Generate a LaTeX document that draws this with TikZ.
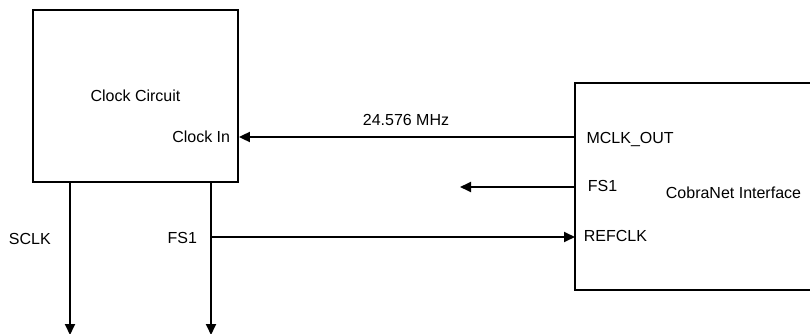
\documentclass[tikz,border=0pt]{standalone}
\usepackage{fontspec}
\setmainfont{Liberation Sans}
\usetikzlibrary{arrows.meta}
\begin{document}
\begin{tikzpicture}[x=1pt,y=-1pt,>={Triangle[length=11pt,width=10pt]},line width=1.8pt,
		font=\fontsize{16}{19}\selectfont,
		blk/.style={draw,rectangle,inner sep=0pt},
		pin/.style={inner sep=0pt}]
	\useasboundingbox (0,0) rectangle (810,334);
	\clip (0,0) rectangle (810,334);
	\node[blk,minimum width=205pt,minimum height=172pt] (clk) at (135.5,96) {};
	\node[blk,minimum width=325pt,minimum height=207pt] (cobra) at (737.5,186.5) {};
	\path (575,137) coordinate (mclk)
	(575,187) coordinate (fsout)
	(460,187) coordinate (fsend)
	(211,237) coordinate (fstap)
	(575,237) coordinate (refclk)
	(70,335) coordinate (sclk)
	(211,335) coordinate (fsbot);
	\draw[->] (mclk) -- (mclk -| clk.east);
	\draw[->] (fsout) -- (fsend);
	\draw[->] (fstap) -- (refclk);
	\draw[->] (sclk |- clk.south) -- (sclk);
	\draw[->] (fsbot |- clk.south) -- (fsbot);
	% texts
	\foreach \n/\x/\y/\a/\t in {lclk/135.5/102/base/Clock Circuit,
		lin/231/142.7/base east/Clock In,
		lfreq/406/125/base/24.576 MHz,
		lsclk/8/244/base west/SCLK,
		lfsa/166.7/243.3/base west/FS1,
		lmclk/585.7/143/base west/MCLK\_OUT,
		lfsb/587/191.7/base west/FS1,
		lref/583/241.7/base west/REFCLK,
		lcobra/665/198/base west/CobraNet Interface}
	{\node[pin,anchor=\a] (\n) at (\x,\y) {\t};}
\end{tikzpicture}
\end{document}
